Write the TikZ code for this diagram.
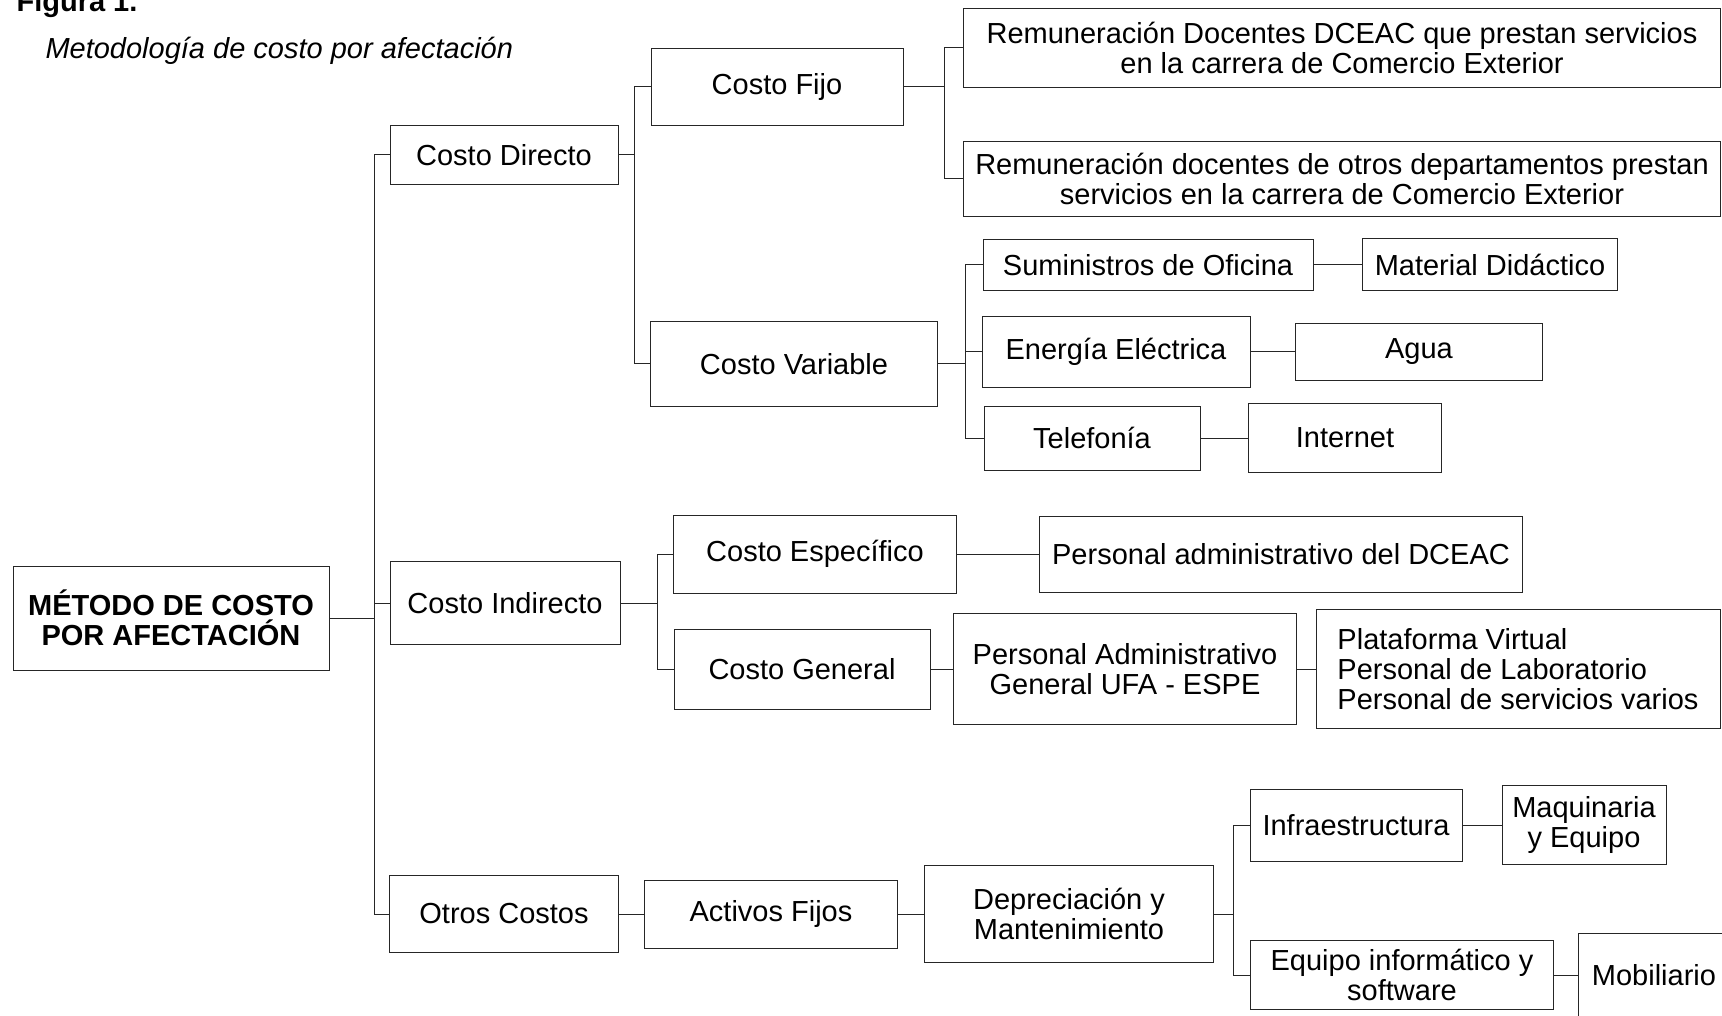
\documentclass[tikz,border=0pt]{standalone}
\usepackage{fontspec}
\setmainfont{Liberation Sans}
\usepackage{tikz}
\newcommand{\diagfont}{\fontsize{29}{29.7}\selectfont}
\tikzstyle{block} = [rectangle, draw=black!85, line width=1pt, inner sep=0pt,
    align=center, font=\diagfont]
\tikzstyle{line} = [draw=black!85, line width=1pt]

\begin{document}
\begin{tikzpicture}[x=1pt,y=-1pt]
    \useasboundingbox (0,0) rectangle (1722,1016);
    % Titles
    \node[anchor=base west,font=\diagfont\bfseries] (figtitle) at (13,12) {Figura 1.};
    \node[anchor=base west,font=\diagfont\itshape] (subtitle) at (42,59) {Metodología de costo por afectación};

    % Place nodes
    \node [block,font=\diagfont\bfseries,minimum width=316pt,minimum height=104pt] (root) at (171,618) {MÉTODO DE COSTO\\POR AFECTACIÓN};

    \node [block,minimum width=228pt,minimum height=59pt] (directo) at (504,155) {Costo Directo};
    \node [block,minimum width=230pt,minimum height=83pt] (indirecto) at (505,603) {Costo Indirecto};
    \node [block,minimum width=229pt,minimum height=77pt] (otros) at (504,914) {Otros Costos};

    \node [block,minimum width=252pt,minimum height=77pt] (fijo) at (777,87) {Costo Fijo};
    \node [block,minimum width=287pt,minimum height=84pt] (variable) at (794,364) {Costo Variable};

    \node [block,minimum width=757pt,minimum height=79pt] (remA) at (1342,48) {Remuneración Docentes DCEAC que prestan servicios\\en la carrera de Comercio Exterior};
    \node [block,minimum width=757pt,minimum height=75pt] (remB) at (1342,179) {Remuneración docentes de otros departamentos prestan\\servicios en la carrera de Comercio Exterior};

    \node [block,minimum width=330pt,minimum height=51pt] (suministros) at (1148,265) {Suministros de Oficina};
    \node [block,right of=suministros,node distance=342pt,minimum width=255pt,minimum height=52pt] (material) {Material Didáctico};
    \node [block,minimum width=268pt,minimum height=71pt] (energia) at (1116,352) {Energía Eléctrica};
    \node [block,right of=energia,node distance=303pt,minimum width=247pt,minimum height=56pt] (agua) {Agua};
    \node [block,minimum width=216pt,minimum height=64pt] (telefonia) at (1092,438) {Telefonía};
    \node [block,right of=telefonia,node distance=253pt,minimum width=193pt,minimum height=69pt] (internet) {Internet};

    \node [block,minimum width=283pt,minimum height=78pt] (especifico) at (815,554) {Costo Específico};
    \node [block,right of=especifico,node distance=466pt,minimum width=483pt,minimum height=76pt] (persdceac) {Personal administrativo del DCEAC};
    \node [block,minimum width=256pt,minimum height=80pt] (general) at (802,669) {Costo General};
    \node [block,right of=general,node distance=323pt,minimum width=343pt,minimum height=111pt] (persufa) {Personal Administrativo\\General UFA - ESPE};
    \node [block,right of=persufa,node distance=393pt,minimum width=404pt,minimum height=119pt,align=left] (plataforma) {Plataforma Virtual\\Personal de Laboratorio\\Personal de servicios varios};

    \node [block,right of=otros,node distance=267pt,minimum width=253pt,minimum height=68pt] (activos) {Activos Fijos};
    \node [block,right of=activos,node distance=298pt,minimum width=289pt,minimum height=97pt] (deprec) {Depreciación y\\Mantenimiento};
    \node [block,minimum width=212pt,minimum height=72pt] (infra) at (1356,825) {Infraestructura};
    \node [block,right of=infra,node distance=228pt,minimum width=164pt,minimum height=79pt] (maquinaria) {Maquinaria\\y Equipo};
    \node [block,minimum width=303pt,minimum height=69pt] (equipo) at (1402,975) {Equipo informático y\\software};
    \node [block,right of=equipo,node distance=252pt,minimum width=152pt,minimum height=84pt] (mobiliario) {Mobiliario};

    % Draw edges
    \path [line] (root.east) --++ (45,0) |- (directo.west);
    \path [line] (root.east) --++ (45,0) |- (indirecto.west);
    \path [line] (root.east) --++ (45,0) |- (otros.west);

    \path [line] (directo.east) --++ (16,0) |- (fijo.west);
    \path [line] (directo.east) --++ (16,0) |- (variable.west);
    \path [line] (fijo.east) --++ (41,0) |- (remA.west);
    \path [line] (fijo.east) --++ (41,0) |- (remB.west);

    \path [line] (variable.east) --++ (27,0) |- (suministros.west);
    \path [line] (variable.east) --++ (27,0) |- (energia.west);
    \path [line] (variable.east) --++ (27,0) |- (telefonia.west);
    \path [line] (suministros) -- (material);
    \path [line] (energia) -- (agua);
    \path [line] (telefonia) -- (internet);

    \path [line] (indirecto.east) --++ (37,0) |- (especifico.west);
    \path [line] (indirecto.east) --++ (37,0) |- (general.west);
    \path [line] (especifico) -- (persdceac);
    \path [line] (general) -- (persufa);
    \path [line] (persufa) -- (plataforma);

    \path [line] (otros) -- (activos);
    \path [line] (activos) -- (deprec);
    \path [line] (deprec.east) --++ (19,0) |- (infra.west);
    \path [line] (deprec.east) --++ (19,0) |- (equipo.west);
    \path [line] (infra) -- (maquinaria);
    \path [line] (equipo) -- (mobiliario);

\end{tikzpicture}
\end{document}
